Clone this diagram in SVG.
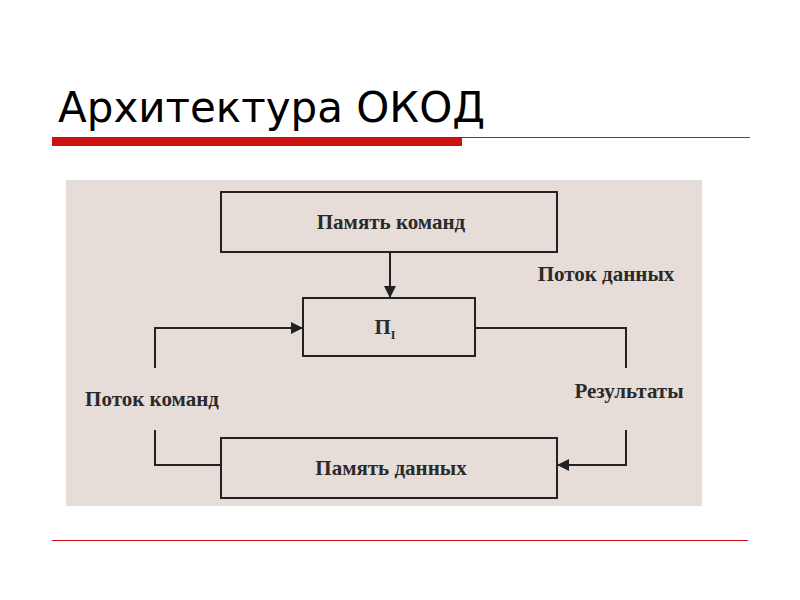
<svg xmlns="http://www.w3.org/2000/svg" width="800" height="600" viewBox="0 0 800 600">
<style>
.box{fill:none;stroke:#222;stroke-width:2}
.ln{fill:none;stroke:#222;stroke-width:2}
.t{font-family:"Liberation Serif",serif;font-weight:bold;font-size:21px;fill:#2a2a2a}
</style>
<defs><marker id="ah" markerWidth="12" markerHeight="12" refX="11" refY="6" orient="auto" markerUnits="userSpaceOnUse"><path d="M0,0 L12,6 L0,12 Z" fill="#222"/></marker></defs>
<rect width="800" height="600" fill="#fff"/>
<text x="58" y="122" font-family="'DejaVu Sans',sans-serif" font-size="42" fill="#000">Архитектура ОКОД</text>
<rect x="52" y="137" width="410" height="9" fill="#cc1111"/>
<line x1="462" y1="137.5" x2="750" y2="137.5" stroke="#cc1111" stroke-width="1"/>
<line x1="52" y1="540.5" x2="748" y2="540.5" stroke="#cc1111" stroke-width="1"/>
<rect x="66" y="180" width="636" height="326" fill="#e6dcd8"/>
<g id="n1"><rect class="box" x="221" y="192" width="336" height="60"/><text class="t" x="391" y="229" text-anchor="middle">Память команд</text></g>
<g id="n2"><rect class="box" x="303" y="298" width="172" height="58"/><text class="t" x="385" y="334" text-anchor="middle" font-size="24">П<tspan font-size="12" dy="5">I</tspan></text></g>
<g id="n3"><rect class="box" x="221" y="438" width="336" height="60"/><text class="t" x="391" y="475" text-anchor="middle">Память данных</text></g>
<g id="connectors">
<line class="ln" x1="390" y1="252" x2="390" y2="297" marker-end="url(#ah)"/>
<polyline class="ln" points="221,465 155,465 155,430"/>
<polyline class="ln" points="155,368 155,328 302,328" marker-end="url(#ah)"/>
<polyline class="ln" points="475,328 626,328 626,368"/>
<polyline class="ln" points="626,430 626,465 558,465" marker-end="url(#ah)"/>
</g>
<text class="t" x="606" y="281" text-anchor="middle">Поток данных</text>
<text class="t" x="152" y="406" text-anchor="middle">Поток команд</text>
<text class="t" x="629" y="398" text-anchor="middle">Результаты</text>
</svg>
